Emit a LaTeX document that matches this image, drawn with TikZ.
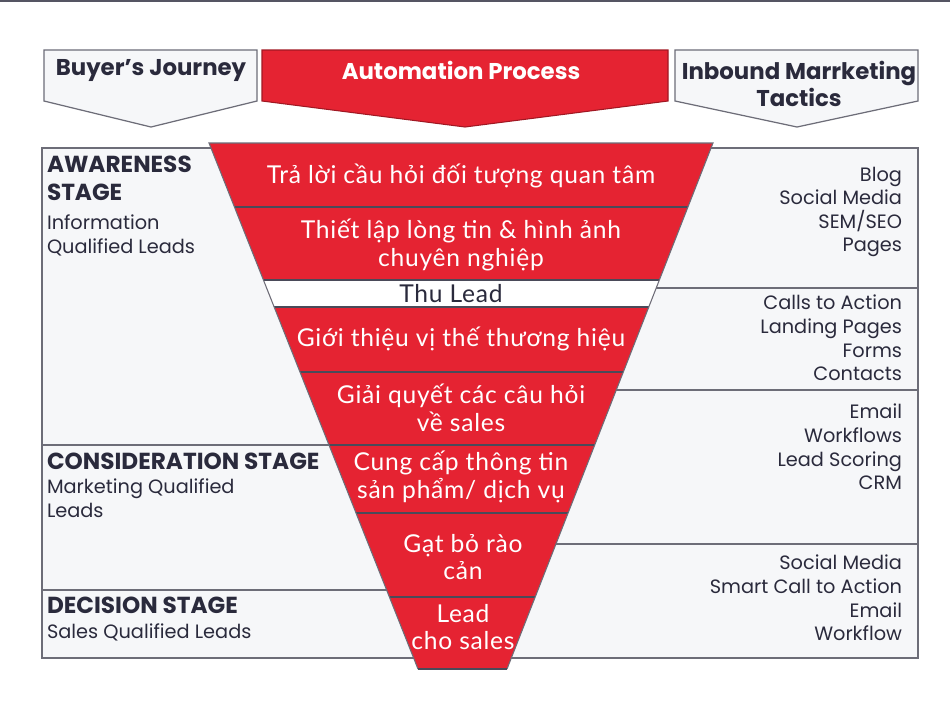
\documentclass[tikz,border=0pt]{standalone}
\usepackage{fontspec}
\setmainfont{Poppins}
\newfontfamily\vnfont[LetterSpace=3]{Lato}
\usetikzlibrary{calc}

\definecolor{funred}{HTML}{E52332}
\definecolor{panelbg}{HTML}{F6F7F9}
\definecolor{edgegray}{HTML}{6D6D78}
\definecolor{inkdark}{HTML}{2A2A3C}

\begin{document}
\begin{tikzpicture}[x=0.02cm, y=-0.02cm]
	\tikzstyle{every node}=[inner sep=0pt, outer sep=0pt]
	\tikzstyle{panel}=[draw=edgegray, line width=0.7pt, fill=panelbg]
	\tikzstyle{divline}=[draw=edgegray, line width=0.7pt]
	\tikzstyle{headtext}=[text=inkdark, align=center, font=\bfseries\fontsize{13}{15.5}\selectfont]
	\tikzstyle{stagename}=[anchor=west, text=inkdark, align=left, font=\bfseries\fontsize{13.2}{15.9}\selectfont]
	\tikzstyle{stagesub}=[anchor=west, text=inkdark, align=left, font=\fontsize{11}{13.6}\selectfont]
	\tikzstyle{tactic}=[anchor=east, text=inkdark, align=right, font=\fontsize{11}{13.4}\selectfont]
	\tikzstyle{vn}=[text=white, align=center, font=\vnfont\fontsize{14}{15.9}\selectfont]

	\useasboundingbox (0,0) rectangle (950,721);
	\fill[white] (0,0) rectangle (950,721);
	\draw[inkdark!80, line width=1.2pt] (0,1) -- (950,1);

	% header arrows
	\draw[panel] (44,50) -- (257,50) -- (257,101) -- (151,127) -- (44,101) -- cycle;
	\draw[fill=funred, draw=funred!70!black, line width=0.6pt] (262,50) -- (668,50) -- (668,101) -- (465,127) -- (262,101) -- cycle;
	\draw[panel] (675,50) -- (918,50) -- (918,101) -- (797,127) -- (675,101) -- cycle;
	\node[headtext] (buyer) at (151,71) {Buyer’s Journey};
	\node[headtext, text=white] (auto) at (461,70) {Automation Process};
	\node[headtext] (inbound) at (799,84) {Inbound Marrketing\\Tactics};

	% side panels
	\draw[panel] (42,148) rectangle (460,658);
	\draw[divline] (42,445) -- (460,445);
	\draw[divline] (42,590) -- (460,590);
	\draw[panel] (465,148) rectangle (918,658);
	\foreach \yy in {288,390,544}
		\draw[divline] (465,\yy) -- (918,\yy);

	% funnel
	\coordinate (ftl) at (209,143);
	\coordinate (ftr) at (713,143);
	\coordinate (fbr) at (507,669);
	\coordinate (fbl) at (418,669);
	\fill[funred] (ftl) -- (ftr) -- (fbr) -- (fbl) -- cycle;
	\fill[white] ($(ftl)!{137/526}!(fbl)$) -- ($(ftr)!{137/526}!(fbr)$)
		-- ($(ftr)!{164/526}!(fbr)$) -- ($(ftl)!{164/526}!(fbl)$) -- cycle;
	\foreach \yy in {207,280,307,372,445,513,597}
		\draw[inkdark!85, line width=0.6pt] ($(ftl)!{(\yy-143)/526}!(fbl)$) -- ($(ftr)!{(\yy-143)/526}!(fbr)$);
	\draw[edgegray, line width=0.6pt] (fbl) -- (ftl) -- (ftr) -- (fbr);
	\draw[inkdark!85, line width=0.7pt] (fbl) -- (fbr);

	% funnel steps
	\node[vn] (s1) at (461,176) {Trả lời cầu hỏi đối tượng quan tâm};
	\node[vn] (s2) at (461,245) {Thiết lập lòng tin \& hình ảnh\\chuyên nghiệp};
	\node[vn, text=inkdark] (s3) at (451,294) {Thu Lead};
	\node[vn] (s4) at (461,339) {Giới thiệu vị thế thương hiệu};
	\node[vn] (s5) at (461,408) {Giải quyết các câu hỏi\\về sales};
	\node[vn] (s6) at (461,477) {Cung cấp thông tin\\sản phẩm/ dịch vụ};
	\node[vn] (s7) at (463,557) {Gạt bỏ rào\\cản};
	\node[vn] (s8) at (463,627) {Lead\\cho sales};

	% buyer's journey stages
	\node[stagename] (aware) at (47,178) {AWARENESS\\STAGE};
	\node[stagesub] (awaresub) at (47,235) {Information\\Qualified Leads};
	\node[stagename] (consid) at (47,461) {CONSIDERATION STAGE};
	\node[stagesub] (considsub) at (47,498) {Marketing Qualified\\Leads};
	\node[stagename] (decis) at (47,605) {DECISION STAGE};
	\node[stagesub] (decissub) at (47,632) {Sales Qualified Leads};

	% inbound tactics
	\node[tactic] (tac1) at (902,212) {Blog\\Social Media\\SEM/SEO\\Pages};
	\node[tactic] (tac2) at (902,338) {Calls to Action\\Landing Pages\\Forms\\Contacts};
	\node[tactic] (tac3) at (902,447) {Email\\Workflows\\Lead Scoring\\CRM\hspace{5pt}};
	\node[tactic] (tac4) at (902,598) {Social Media\\Smart Call to Action\\Email\\Workflow};
\end{tikzpicture}
\end{document}
